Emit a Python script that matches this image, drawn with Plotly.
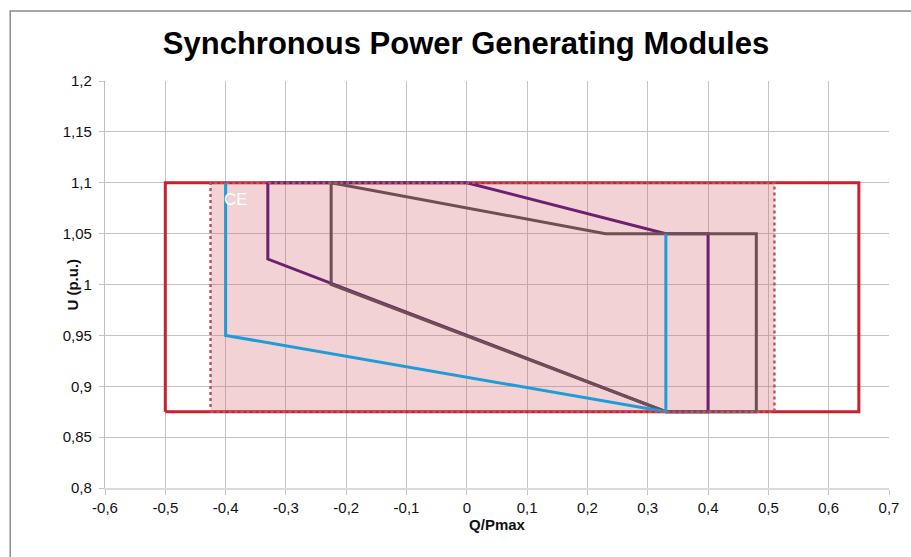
import plotly.graph_objects as go

# Q/Pmax and U (p.u.) corner points of each operating envelope
q_outer = [-0.5, 0.65, 0.65, -0.5, -0.5]
u_outer = [0.875, 0.875, 1.1, 1.1, 0.875]

q_zone = [-0.425, 0.51, 0.51, -0.425, -0.425]
u_zone = [0.875, 0.875, 1.1, 1.1, 0.875]

q_ce = [-0.4, -0.4, 0.33, 0.33]
u_ce = [1.1, 0.95, 0.875, 1.05]

q_purple = [-0.33, -0.33, 0.33, 0.4, 0.4, 0.33, 0.0, -0.33]
u_purple = [1.1, 1.025, 0.875, 0.875, 1.05, 1.05, 1.1, 1.1]

q_brown = [-0.225, -0.225, 0.33, 0.48, 0.48, 0.23, -0.225]
u_brown = [1.1, 1.0, 0.875, 0.875, 1.05, 1.05, 1.1]

x_ticks = [round(-0.6 + 0.1 * i, 1) for i in range(14)]
y_ticks = [round(0.8 + 0.05 * i, 2) for i in range(9)]


def comma(v):
    s = f"{v:g}"
    return "0" if s == "-0" else s.replace(".", ",")


RED = "#C8202E"
PINK_LINE = "#B85563"
PURPLE = "#6B2070"
BROWN = "#6F4E55"
BLUE = "#1F9BD7"
FONT = "Arial, Liberation Sans, sans-serif"

fig = go.Figure()

# shaded zone (fill only)
fig.add_trace(go.Scatter(x=q_zone, y=u_zone, mode="lines", fill="toself",
                         fillcolor="rgba(205,80,90,0.26)",
                         line=dict(width=0), hoverinfo="skip"))
fig.add_trace(go.Scatter(x=q_outer, y=u_outer, mode="lines",
                         line=dict(color=RED, width=3)))
fig.add_trace(go.Scatter(x=q_purple, y=u_purple, mode="lines",
                         line=dict(color=PURPLE, width=3)))
fig.add_trace(go.Scatter(x=q_brown, y=u_brown, mode="lines",
                         line=dict(color=BROWN, width=3)))
fig.add_trace(go.Scatter(x=q_ce, y=u_ce, mode="lines",
                         line=dict(color=BLUE, width=3)))
# dotted outline of the shaded zone
fig.add_trace(go.Scatter(x=q_zone, y=u_zone, mode="lines",
                         line=dict(color=PINK_LINE, width=2.5, dash="dot")))

fig.add_annotation(x=-0.383, y=1.084, text="CE", showarrow=False,
                   font=dict(family=FONT, size=17, color="white"))

# vertical axis title, tucked in beside the tick labels
fig.add_annotation(xref="paper", yref="paper", x=(72 - 105) / 786, y=0.5,
                   text="<b>U (p.u.)</b>", textangle=-90, showarrow=False,
                   xanchor="center", yanchor="middle",
                   font=dict(family=FONT, size=15, color="#111111"))

# outer chart frame
fig.add_shape(type="rect", xref="paper", yref="paper",
              x0=-0.1209, x1=1.2, y0=-0.4, y1=1.172,
              line=dict(color="#8C8C8C", width=1.5), fillcolor="rgba(0,0,0,0)")

fig.update_layout(
    width=911, height=557,
    margin=dict(l=105, r=20, t=81, b=69),
    paper_bgcolor="white", plot_bgcolor="white",
    showlegend=False,
    font=dict(family=FONT, color="#111111"),
    title=dict(text="<b>Synchronous Power Generating Modules</b>",
               x=466 / 911, xanchor="center", y=1 - 43 / 557, yanchor="middle",
               font=dict(family=FONT, size=31, color="black")),
)
fig.update_xaxes(
    range=[-0.6, 0.7], tickvals=x_ticks, ticktext=[comma(v) for v in x_ticks],
    showgrid=True, gridcolor="#C4C4C4", gridwidth=1,
    showline=True, linecolor="#DADADA", linewidth=2,
    ticks="outside", ticklen=5, tickcolor="#C4C4C4",
    tickfont=dict(size=15, color="#111111"), zeroline=False,
    title=dict(text="<b>Q/Pmax</b>", font=dict(size=15, color="#111111"), standoff=1),
)
fig.update_yaxes(
    range=[0.8, 1.2], tickvals=y_ticks,
    ticktext=[comma(v) + "\u00a0" for v in y_ticks],
    showgrid=True, gridcolor="#C4C4C4", gridwidth=1,
    showline=True, linecolor="#BFBFBF", linewidth=1,
    ticks="outside", ticklen=5, tickcolor="#C4C4C4",
    tickfont=dict(size=15, color="#111111"), zeroline=False,
)

fig.write_html("out.html")
